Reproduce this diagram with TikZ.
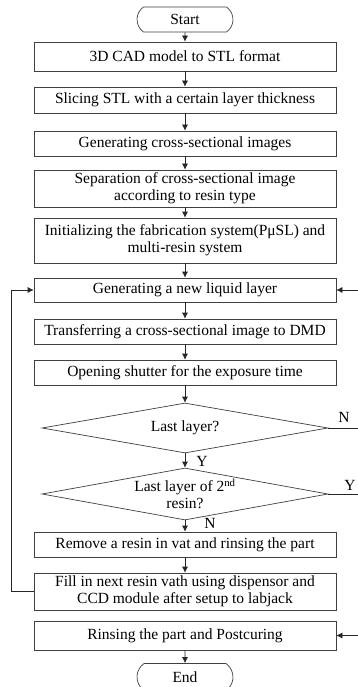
\documentclass[tikz,border=0pt]{standalone}
\usepackage{fontspec}
\setmainfont{Liberation Serif}
\usetikzlibrary{shapes.geometric,shapes.misc,arrows.meta}
\begin{document}
\begin{tikzpicture}[x=1pt,y=-1pt,
  every node/.style={font=\fontsize{15.5}{17}\selectfont},
  box/.style={draw=black!75, line width=0.7pt, minimum width=302pt, inner sep=0pt, align=center},
  term/.style={draw=black!75, line width=0.7pt, rounded rectangle, rounded rectangle arc length=110, minimum width=96pt, minimum height=25pt, inner sep=0pt},
  dia/.style={draw=black!75, line width=0.7pt, diamond, minimum width=286pt, minimum height=50pt, inner sep=0pt},
  flow/.style={draw=black!85, line width=0.7pt, -{Latex[length=6pt,width=6pt]}},
  lab/.style={inner sep=0pt}]
\useasboundingbox (0,0) rectangle (358,687);
\clip (0,0) rectangle (358,687);
\fill[white] (0,0) rectangle (358,687);
\node[term] (start) at (185,19.5) {Start};
\node[box, minimum height=29pt] (b1) at (185,56.5) {3D CAD model to STL format};
\node[box, minimum height=26pt] (b2) at (185,100) {Slicing STL with a certain layer thickness};
\node[box, minimum height=25pt] (b3) at (185,143.5) {Generating cross-sectional images};
\node[box, minimum height=37pt] (b4) at (185,188.5) {Separation of cross-sectional image\\according to resin type};
\node[box, minimum height=45pt] (b5) at (185,240.5) {Initializing the fabrication system(PμSL) and\\multi-resin system};
\node[box, minimum height=24pt] (gen) at (185,290) {Generating a new liquid layer};
\node[box, minimum height=25pt] (trans) at (185,331.5) {Transferring a cross-sectional image to DMD};
\node[box, minimum height=25pt] (open) at (185,372.5) {Opening shutter for the exposure time};
\node[dia] (d1) at (185,428) {};
\node (d1t) at (d1) {Last layer?};
\node[dia, minimum height=52pt] (d2) at (185,494) {};
\node[align=center] (d2t) at (d2) {Last layer of 2\textsuperscript{nd}\\resin?};
\node[box, minimum height=25pt] (rem) at (185,544.5) {Remove a resin in vat and rinsing the part};
\node[box, minimum height=37pt] (fill) at (185,591.5) {Fill in next resin vath using dispensor and\\CCD module after setup to labjack};
\node[box, minimum height=29pt] (rins) at (185,635.5) {Rinsing the part and Postcuring};
\node[term, minimum height=27pt] (end) at (185,677) {End};
\node[lab] (ly1) at (202,461) {Y};
\node[lab] (ln2) at (210,523) {N};
\node[lab] (ln1) at (344,417) {N};
\node[lab] (ly2) at (350,485) {Y};
\coordinate (rx) at (375,0);
\coordinate (lx) at (11,0);
\draw[flow] (start) -- (b1);
\draw[flow] (b1) -- (b2);
\draw[flow] (b2) -- (b3);
\draw[flow] (b3) -- (b4);
\draw[flow] (b4) -- (b5);
\draw[flow] (b5) -- (gen);
\draw[flow] (gen) -- (trans);
\draw[flow] (trans) -- (open);
\draw[flow] (open) -- (d1);
\draw[flow] (d1) -- (d2);
\draw[flow] (d2) -- (rem);
\draw[flow] (rem) -- (fill);
\draw[flow] (rins) -- (end);
\draw[flow] (fill.west) -- (fill.west -| lx) |- (gen.west);
\draw[flow] (d1.east) -- (d1.east -| rx) |- (gen.east);
\draw[flow] (d2.east) -- (d2.east -| rx) |- (rins.east);
\end{tikzpicture}
\end{document}
